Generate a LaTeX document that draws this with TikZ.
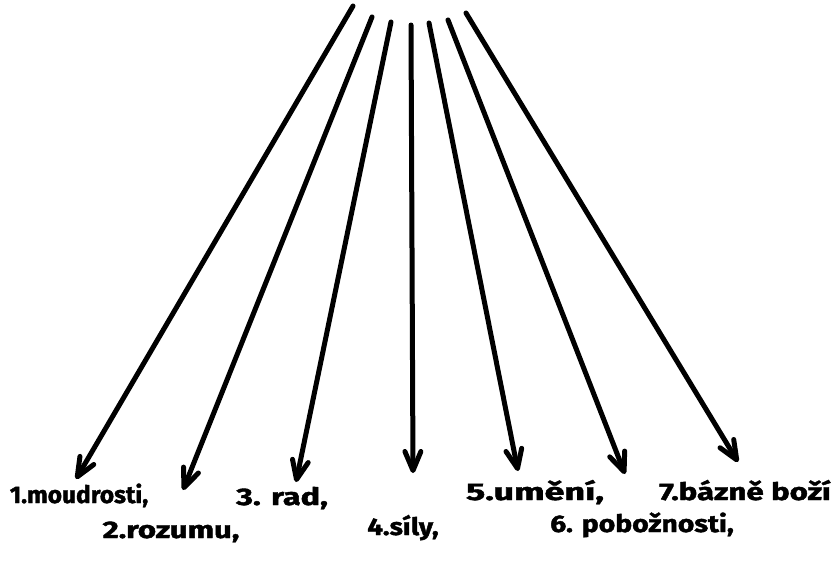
\documentclass[tikz,border=0pt]{standalone}
\usepackage{graphicx}
\usepackage{fontspec}
\setmainfont{Fira Sans}
\newfontfamily\hand{Fira Sans}[BoldFeatures={FakeBold=1.6}]
\usetikzlibrary{arrows.meta}
\newcommand{\wide}[2]{\scalebox{#1}[1]{#2}}
\begin{document}
\begin{tikzpicture}[x=1pt,y=-1pt,
  gift/.style={line width=5pt,line cap=round,
    -{Straight Barb[length=19pt,width=16pt,line cap=round,line join=round]}},
  lbl/.style={font=\hand\fontsize{24}{28}\selectfont\bfseries,inner sep=0pt,anchor=base}]
\useasboundingbox (0,0) rectangle (838,563);
% start points
\coordinate (s1) at (353,6);
\coordinate (s2) at (372,17);
\coordinate (s3) at (391,22);
\coordinate (s4) at (411,25);
\coordinate (s5) at (429,23);
\coordinate (s6) at (448,20);
\coordinate (s7) at (466,13);
% tips
\coordinate (t1) at (76,479);
\coordinate (t2) at (183,490);
\coordinate (t3) at (296,482);
\coordinate (t4) at (413,473);
\coordinate (t5) at (518,471);
\coordinate (t6) at (625,474);
\coordinate (t7) at (738,462);
\draw[gift] (s1) -- (t1);
\draw[gift] (s2) -- (t2);
\draw[gift] (s3) -- (t3);
\draw[gift] (s4) -- (t4);
\draw[gift] (s5) -- (t5);
\draw[gift] (s6) -- (t6);
\draw[gift] (s7) -- (t7);
% labels
\node[lbl] (l1) at (79,503) {\wide{1.02}{1.moudrosti,}};
\node[lbl] (l2) at (171,538) {\wide{1.3}{2.rozumu,}};
\node[lbl] (l3) at (282,505) {\wide{1.35}{3. rad,}};
\node[lbl] (l4) at (403,535) {\wide{1.14}{4.síly,}};
\node[lbl] (l5) at (535,500) {\wide{1.5}{5.umění,}};
\node[lbl] (l6) at (642,532) {\wide{1.18}{6. pobožnosti,}};
\node[lbl] (l7) at (745,500) {\wide{1.3}{7.bázně boží}};
\end{tikzpicture}
\end{document}
